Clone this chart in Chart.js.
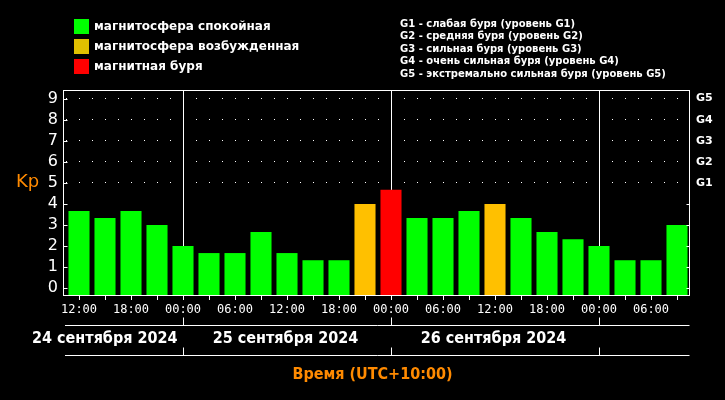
<!DOCTYPE html>
<html>
<head>
<meta charset="utf-8">
<script src="https://cdn.jsdelivr.net/npm/chart.js@4/dist/chart.umd.min.js"></script>
<style>
  html, body { margin: 0; padding: 0; background: #000; }
  #wrap { width: 725px; height: 400px; }
</style>
</head>
<body>
<div id="wrap"><canvas id="kpChart" width="725" height="400"></canvas></div>
<script>
// 3-hour Kp index, 24 Sep 12:00 .. 27 Sep 09:00 (UTC+10)
const timeLabels = ['12:00', '', '18:00', '', '00:00', '', '06:00', '',
                    '12:00', '', '18:00', '', '00:00', '', '06:00', '',
                    '12:00', '', '18:00', '', '00:00', '', '06:00', ''];
const kpValues = [3.67, 3.33, 3.67, 3, 2, 1.67, 1.67, 2.67,
                  1.67, 1.33, 1.33, 4, 4.67, 3.33, 3.33, 3.67,
                  4, 3.33, 2.67, 2.33, 2, 1.33, 1.33, 3];
const dayLabels = ['24 сентября 2024', '25 сентября 2024', '26 сентября 2024'];
const stormLevels = ['G1', 'G2', 'G3', 'G4', 'G5'];
const stormNotes = [
  'G1 - слабая буря (уровень G1)',
  'G2 - средняя буря (уровень G2)',
  'G3 - сильная буря (уровень G3)',
  'G4 - очень сильная буря (уровень G4)',
  'G5 - экстремально сильная буря (уровень G5)'
];
const legendNames = ['магнитосфера спокойная', 'магнитосфера возбужденная', 'магнитная буря'];
const legendColors = ['#00ff00', '#e0c000', '#ff0000'];

const barColors = { quiet: '#00ff00', active: '#ffc000', storm: '#ff0000' };
const Y_MIN = -0.32;
const Y_MAX = 9.41;
const ORANGE = '#ff8a00';
const CONDENSED = "'Liberation Sans Narrow', 'DejaVu Sans Condensed', sans-serif";

function colorFor(v) {
  if (v > 4.5) return barColors.storm;
  if (v >= 4) return barColors.active;
  return barColors.quiet;
}

// everything that is not a bar: frame, legends, date rows
const decorPlugin = {
  id: 'decor',
  beforeDraw(chart) {
    const ctx = chart.ctx;
    ctx.save();
    ctx.fillStyle = '#000';
    ctx.fillRect(0, 0, chart.width, chart.height);
    ctx.restore();
  },
  afterDraw(chart) {
    const ctx = chart.ctx;
    const area = chart.chartArea;
    const x = chart.scales.x;
    const y = chart.scales.y;
    const frameL = area.left - 2.5;
    const frameR = area.right - 0.5;
    const frameT = area.top + 0.5;
    const frameB = area.bottom + 0.5;

    ctx.save();
    ctx.strokeStyle = '#fff';
    ctx.lineWidth = 1;
    ctx.strokeRect(frameL, frameT, frameR - frameL, frameB - frameT);

    // inward ticks on the frame
    ctx.beginPath();
    for (let v = 0; v <= 9; v++) {
      const py = Math.round(y.getPixelForValue(v)) + 0.5;
      ctx.moveTo(frameL, py);
      ctx.lineTo(frameL + 4, py);
      if (v < 5) {
        ctx.moveTo(frameR - 3, py);
        ctx.lineTo(frameR, py);
      }
    }
    ctx.stroke();

    // Kp title
    ctx.fillStyle = ORANGE;
    ctx.font = '18px "DejaVu Sans"';
    ctx.textAlign = 'left';
    ctx.textBaseline = 'middle';
    ctx.fillText('Kp', 16, y.getPixelForValue(5.0) - 1);

    // legend, top left
    ctx.font = 'bold 12px "DejaVu Sans"';
    legendNames.forEach((name, i) => {
      const top = 19 + i * 20;
      ctx.fillStyle = legendColors[i];
      ctx.fillRect(74, top, 15, 15);
      ctx.fillStyle = '#fff';
      ctx.fillText(name, 94, top + 8);
    });

    // storm level notes, top right
    ctx.font = 'bold 10px "DejaVu Sans"';
    stormNotes.forEach((note, i) => {
      ctx.fillText(note, 400, 24 + i * 12.5);
    });

    // day rows under the time labels
    const dayTicks = [];
    timeLabels.forEach((t, i) => { if (t === '00:00') dayTicks.push(i); });
    const bounds = dayTicks.map(i => Math.round(x.getPixelForTick(i)) + 0.5);
    const rowL = frameL + 1.5;
    const rowR = frameR;
    ctx.beginPath();
    [325.5, 355.5].forEach(ly => {
      ctx.moveTo(rowL, ly);
      ctx.lineTo(rowR, ly);
      bounds.forEach(bx => {
        ctx.moveTo(bx, ly - 8);
        ctx.lineTo(bx, ly);
      });
    });
    ctx.stroke();

    const dayW = bounds[1] - bounds[0];
    ctx.font = 'bold 16px ' + CONDENSED;
    ctx.fillStyle = '#fff';
    ctx.textAlign = 'center';
    dayLabels.forEach((label, i) => {
      const start = i === 0 ? bounds[0] - dayW : bounds[i - 1];
      let cx = start + dayW / 2 - 2;
      const w = ctx.measureText(label).width;
      if (cx - w / 2 < 32) cx = 32 + w / 2;
      ctx.fillText(label, cx, 339);
    });

    ctx.fillStyle = ORANGE;
    ctx.fillText('Время (UTC+10:00)', (frameL + frameR) / 2 - 4, 375);
    ctx.restore();
  }
};

new Chart(document.getElementById('kpChart'), {
  type: 'bar',
  data: {
    labels: timeLabels,
    datasets: [{
      label: 'Kp',
      data: kpValues,
      base: Y_MIN,
      backgroundColor: kpValues.map(colorFor),
      borderWidth: 0,
      barPercentage: 0.81,
      categoryPercentage: 1.0
    }]
  },
  options: {
    responsive: false,
    animation: false,
    layout: { padding: { top: 90, left: 0, right: 0, bottom: 0 } },
    plugins: {
      legend: { display: false },
      tooltip: { enabled: false },
      title: { display: false }
    },
    scales: {
      x: {
        type: 'category',
        offset: true,
        afterFit(scale) { scale.height = 105; },
        border: { display: false },
        grid: {
          offset: false,
          color: ctx => timeLabels[ctx.index] === '00:00' ? '#ffffff' : 'rgba(0,0,0,0)',
          tickColor: '#ffffff',
          tickLength: 5,
          lineWidth: 1
        },
        ticks: {
          color: '#ffffff',
          autoSkip: false,
          maxRotation: 0,
          padding: 3,
          font: { family: 'DejaVu Sans Mono', size: 12 }
        }
      },
      y: {
        position: 'left',
        min: Y_MIN,
        max: Y_MAX,
        afterFit(scale) { scale.width = 66; },
        afterBuildTicks(scale) {
          scale.ticks = [0, 1, 2, 3, 4, 5, 6, 7, 8, 9].map(v => ({ value: v }));
        },
        border: { display: false, dash: [1, 12] },
        grid: {
          drawTicks: false,
          color: ctx => (ctx.tick && ctx.tick.value >= 5) ? '#ffffff' : 'rgba(0,0,0,0)',
          lineWidth: 1
        },
        ticks: {
          color: '#ffffff',
          padding: 8,
          font: { family: 'DejaVu Sans', size: 16 }
        }
      },
      y2: {
        position: 'right',
        min: Y_MIN,
        max: Y_MAX,
        afterFit(scale) { scale.width = 35; },
        afterBuildTicks(scale) {
          scale.ticks = [5, 6, 7, 8, 9].map(v => ({ value: v }));
        },
        border: { display: false },
        grid: { drawOnChartArea: false, drawTicks: false },
        ticks: {
          color: '#ffffff',
          padding: 6,
          font: { family: 'DejaVu Sans', size: 11, weight: 'bold' },
          callback: value => stormLevels[value - 5]
        }
      }
    }
  },
  plugins: [decorPlugin]
});
</script>
</body>
</html>
